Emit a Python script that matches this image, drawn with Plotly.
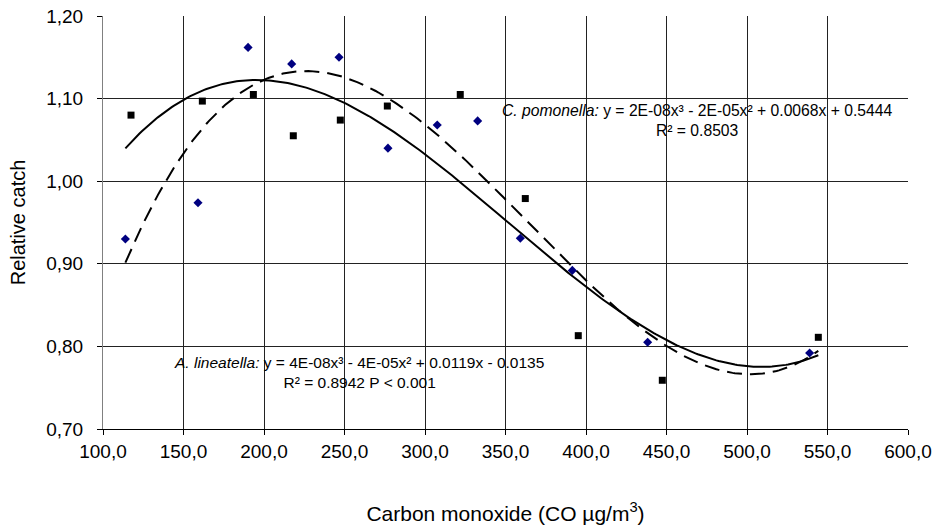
import numpy as np
import plotly.graph_objects as go

# A. lineatella (diamonds)
al_x = [113.9, 159.0, 190.1, 217.2, 246.6, 277.0, 307.6, 332.7, 359.2, 391.5, 438.3, 538.9]
al_y = [0.930, 0.974, 1.162, 1.142, 1.150, 1.040, 1.068, 1.073, 0.931, 0.892, 0.805, 0.792]

# C. pomonella (squares)
cp_x = [117.4, 161.7, 193.4, 218.2, 247.4, 276.6, 321.9, 362.3, 395.2, 447.4, 544.3]
cp_y = [1.080, 1.097, 1.105, 1.055, 1.074, 1.091, 1.105, 0.979, 0.813, 0.759, 0.811]

x_ticks = [100, 150, 200, 250, 300, 350, 400, 450, 500, 550, 600]
x_ticklabels = ["100,0", "150,0", "200,0", "250,0", "300,0", "350,0", "400,0", "450,0", "500,0", "550,0", "600,0"]
y_ticks = [0.70, 0.80, 0.90, 1.00, 1.10, 1.20]
y_ticklabels = ["0,70", "0,80", "0,90", "1,00", "1,10", "1,20"]

# cubic trendlines fitted to the data (as in the original spreadsheet)
xmin = min(min(al_x), min(cp_x))
xmax = max(max(al_x), max(cp_x))
xs = np.linspace(xmin, xmax, 300)
al_fit = np.polyval(np.polyfit(al_x, al_y, 3), xs)
cp_fit = np.polyval(np.polyfit(cp_x, cp_y, 3), xs)

fig = go.Figure()
fig.add_trace(go.Scatter(x=xs, y=cp_fit, mode="lines",
                         line=dict(color="black", width=2), showlegend=False, hoverinfo="skip"))
fig.add_trace(go.Scatter(x=xs, y=al_fit, mode="lines",
                         line=dict(color="black", width=2, dash="15px,8px"), showlegend=False, hoverinfo="skip"))
fig.add_trace(go.Scatter(x=al_x, y=al_y, mode="markers", name="A. lineatella",
                         marker=dict(symbol="diamond", size=7, color="#000080"), showlegend=False))
fig.add_trace(go.Scatter(x=cp_x, y=cp_y, mode="markers", name="C. pomonella",
                         marker=dict(symbol="square", size=7, color="black"), showlegend=False))

fig.add_annotation(
    x=0.7385, y=0.748, xref="paper", yref="paper", xanchor="center", yanchor="middle",
    text="<i>C. pomonella:</i> y = 2E-08x³ - 2E-05x² + 0.0068x + 0.5444<br>R² = 0.8503",
    showarrow=False, align="center", font=dict(size=15.7, color="black"))
fig.add_annotation(
    x=0.318, y=0.1356, xref="paper", yref="paper", xanchor="center", yanchor="middle",
    text="<i>A. lineatella:</i> y = 4E-08x³ - 4E-05x² + 0.0119x - 0.0135<br>R² = 0.8942 P < 0.001",
    showarrow=False, align="center", font=dict(size=15.5, color="black"))

fig.update_layout(
    width=938, height=529,
    margin=dict(l=103, r=30, t=16, b=100),
    paper_bgcolor="white", plot_bgcolor="white",
    font=dict(family="Liberation Sans, Arial, sans-serif", color="black"),
    xaxis=dict(range=[100, 600], tickvals=x_ticks, ticktext=x_ticklabels,
               showgrid=True, gridcolor="#222222", gridwidth=1,
               showline=True, linecolor="black", linewidth=1,
               ticks="outside", ticklen=5, tickcolor="black",
               tickfont=dict(size=19), zeroline=False, automargin=False,
               title=dict(text="Carbon monoxide (CO µg/m<sup>3</sup>)", font=dict(size=21), standoff=45)),
    yaxis=dict(range=[0.70, 1.20], tickvals=y_ticks, ticktext=y_ticklabels,
               showgrid=True, gridcolor="#222222", gridwidth=1,
               showline=True, linecolor="#808080", linewidth=1,
               ticks="outside", ticklen=5, tickcolor="black", ticklabelstandoff=10,
               tickfont=dict(size=19), zeroline=False, automargin=False,
               title=dict(text="Relative catch", font=dict(size=20), standoff=15)),
)

fig.write_html("out.html")
